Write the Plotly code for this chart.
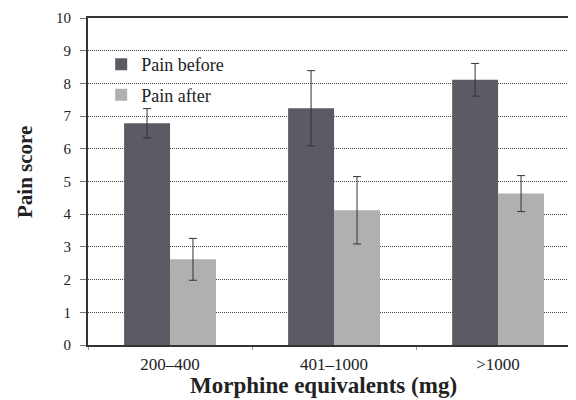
import plotly.graph_objects as go

categories = ["200–400", "401–1000", ">1000"]
pain_before = [6.78, 7.24, 8.11]
pain_before_err = [0.45, 1.15, 0.5]
pain_after = [2.62, 4.12, 4.63]
pain_after_err = [0.64, 1.03, 0.55]
y_ticks = list(range(0, 11))

SERIF = "Liberation Serif"

fig = go.Figure()
fig.add_trace(go.Bar(
    name="Pain before", x=categories, y=pain_before,
    marker=dict(color="#5c5b64", line=dict(width=0)),
    error_y=dict(type="data", array=pain_before_err, color="#333333", thickness=1, width=4),
    legendgroup="a",
))
fig.add_trace(go.Bar(
    name="Pain after", x=categories, y=pain_after,
    marker=dict(color="#b0b0b0", line=dict(width=0)),
    error_y=dict(type="data", array=pain_after_err, color="#333333", thickness=1, width=4),
    legendgroup="b",
))

# page body has an 8px default margin, so the figure is sized/offset to compensate
fig.update_layout(
    width=568, height=392,
    margin=dict(l=80, r=0, t=10, b=55),
    paper_bgcolor="white", plot_bgcolor="white",
    barmode="group", bargap=0.44, bargroupgap=0,
    font=dict(family=SERIF, color="#222222"),
    showlegend=True,
    legend=dict(
        x=0.027, y=0.914, xanchor="left", yanchor="top",
        bgcolor="rgba(0,0,0,0)", font=dict(size=18, family=SERIF, color="#222222"),
        tracegroupgap=4, itemwidth=30,
    ),
    xaxis=dict(
        type="category", range=[-0.5, 2.475], automargin=False,
        showline=True, linecolor="#333333", linewidth=2, mirror=True,
        ticks="outside", tickson="boundaries", ticklen=3, tickcolor="#999999",
        ticklabelstandoff=3,
        tickfont=dict(size=17, family=SERIF, color="#222222"),
        showgrid=False,
    ),
    yaxis=dict(
        range=[0, 10], tickvals=y_ticks, automargin=False,
        showline=True, linecolor="#333333", linewidth=2, mirror=False,
        ticks="outside", ticklen=6, tickcolor="#777777", ticklabelstandoff=6,
        tickfont=dict(size=15, family=SERIF, color="#222222"),
        showgrid=True, gridcolor="#444444", griddash="1px,1px", gridwidth=1,
        zeroline=False,
    ),
    annotations=[
        dict(text="<b>Morphine equivalents (mg)</b>", xref="paper", yref="paper",
             x=(323 - 88) / 488, y=-0.125, xanchor="center", yanchor="middle",
             showarrow=False, font=dict(size=23, family=SERIF, color="#222222")),
        dict(text="<b>Pain score</b>", xref="paper", yref="paper",
             x=(25 - 88) / 488, y=(345 - 172) / 327, xanchor="center", yanchor="middle",
             textangle=-90, showarrow=False,
             font=dict(size=21, family=SERIF, color="#222222")),
    ],
)

fig.write_html("out.html")
